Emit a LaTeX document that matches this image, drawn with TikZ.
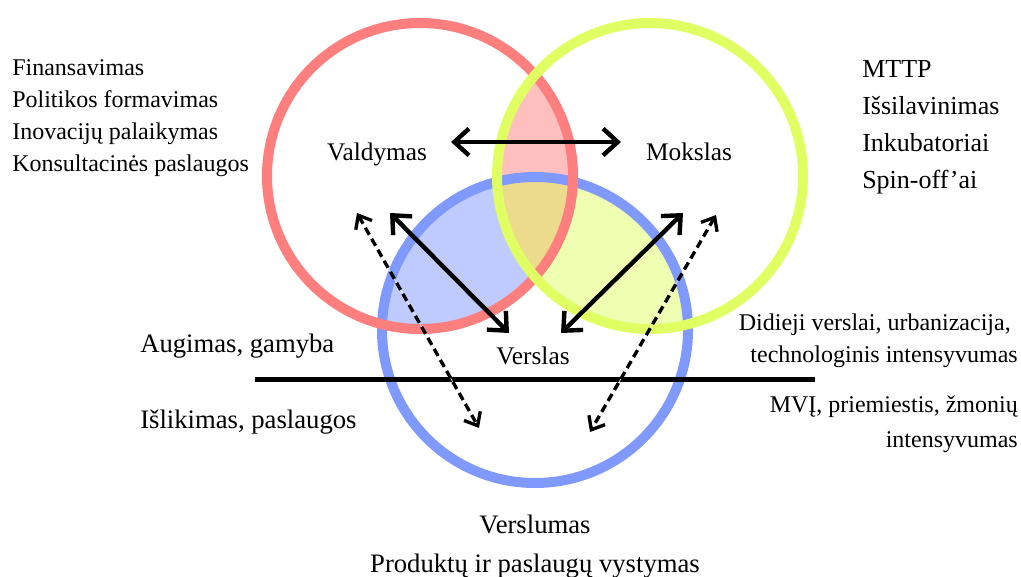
\documentclass[tikz,border=0pt]{standalone}
\usepackage{fontspec}
\setmainfont{Liberation Serif}
\usetikzlibrary{arrows.meta}

\definecolor{ringred}{HTML}{FF7F7F}
\definecolor{ringgreen}{HTML}{E0FF62}
\definecolor{ringblue}{HTML}{7F99FF}
\definecolor{lensred}{HTML}{FFBFBF}
\definecolor{lensblue}{HTML}{BFCBFF}
\definecolor{lensgreen}{HTML}{EEFFB2}
\definecolor{lenscore}{HTML}{EDDB8D}

\tikzset{
  ring/.style={line width=7.5pt},
  link/.style={line width=3.3pt, line cap=round, line join=round,
    {Straight Barb[length=11pt,width=20pt,line width=3.3pt]}-{Straight Barb[length=11pt,width=20pt,line width=3.3pt]}},
  weaklink/.style={line width=2.5pt, dash pattern=on 6pt off 3.5pt,
    preaction={draw=white, solid},
    {Straight Barb[length=8.5pt,width=14pt,line width=2.5pt]}-{Straight Barb[length=8.5pt,width=14pt,line width=2.5pt]}},
  sidelist/.style={anchor=base west, inner sep=0pt, font=\fontsize{18}{20}\selectfont},
  toplist/.style={anchor=base west, inner sep=0pt, font=\fontsize{19.5}{22}\selectfont},
  field/.style={anchor=base, inner sep=0pt, font=\fontsize{19}{22}\selectfont},
  levelL/.style={anchor=base west, inner sep=0pt, font=\fontsize{20}{22}\selectfont},
  levelR/.style={anchor=base east, inner sep=0pt, font=\fontsize{18}{22}\selectfont},
  footer/.style={anchor=base, inner sep=0pt, font=\fontsize{20}{22}\selectfont},
}

\begin{document}
\begin{tikzpicture}[x=0.75pt,y=-0.75pt]
\useasboundingbox (0,0) rectangle (1021,577);

% circle centres
\coordinate (R) at (420,176);
\coordinate (G) at (650,176);
\coordinate (B) at (535,330);

% overlap fills
\begin{scope}
  \clip (R) circle[radius=153];
  \fill[lensred] (G) circle[radius=153];
\end{scope}
\begin{scope}
  \clip (R) circle[radius=153];
  \fill[lensblue] (B) circle[radius=153];
\end{scope}
\begin{scope}
  \clip (G) circle[radius=153];
  \fill[lensgreen] (B) circle[radius=153];
\end{scope}
\begin{scope}
  \clip (R) circle[radius=153];
  \clip (G) circle[radius=153];
  \fill[lenscore] (B) circle[radius=153];
\end{scope}

% rings
\draw[ring, ringblue] (B) circle[radius=153];
\draw[ring, ringred] (R) circle[radius=153];
\draw[ring, ringgreen] (G) circle[radius=153];

% dividing line
\coordinate (hl) at (255,379);
\coordinate (hr) at (815,379);
\draw[line width=3.75pt] (hl) -- (hr);

% arrow end points
\coordinate (vm1) at (451,142);
\coordinate (vm2) at (621,142);
\coordinate (vv1) at (390,213);
\coordinate (vv2) at (509,333);
\coordinate (mv1) at (683,213);
\coordinate (mv2) at (561,333);
\coordinate (dl1) at (357,213);
\coordinate (dl2) at (479,428);
\coordinate (dr1) at (716,215);
\coordinate (dr2) at (590,432);

\draw[weaklink] (dl1) -- (dl2);
\draw[weaklink] (dr1) -- (dr2);
\draw[link] (vm1) -- (vm2);
\draw[link] (vv1) -- (vv2);
\draw[link] (mv1) -- (mv2);

% circle labels
\node[field] (vald) at (377,161) {Valdymas};
\node[field] (moks) at (689,161) {Mokslas};
\node[field] (vers) at (533,364) {Verslas};

% left list
\node[sidelist] (fin) at (12,76) {Finansavimas};
\node[sidelist] (pol) at (12,108) {Politikos formavimas};
\node[sidelist] (ino) at (12,140) {Inovacijų palaikymas};
\node[sidelist] (kon) at (12,172) {Konsultacinės paslaugos};

% right list
\node[toplist] (mttp) at (862,78) {MTTP};
\node[toplist] (iss) at (862,115) {Išsilavinimas};
\node[toplist] (ink) at (862,152) {Inkubatoriai};
\node[toplist] (spin) at (862,189) {Spin-off'ai};

% levels
\node[levelL] (aug) at (140,352) {Augimas, gamyba};
\node[levelL] (isl) at (140,428) {Išlikimas, paslaugos};
\node[levelR] (did) at (1011,330) {Didieji verslai, urbanizacija,};
\node[levelR] (tech) at (1018,363) {technologinis intensyvumas};
\node[levelR] (mvi) at (1018,412) {MVĮ, priemiestis, žmonių};
\node[levelR] (int) at (1018,447) {intensyvumas};

% bottom
\node[footer] (verslumas) at (535,533) {Verslumas};
\node[footer] (prod) at (535,572) {Produktų ir paslaugų vystymas};
\end{tikzpicture}
\end{document}
